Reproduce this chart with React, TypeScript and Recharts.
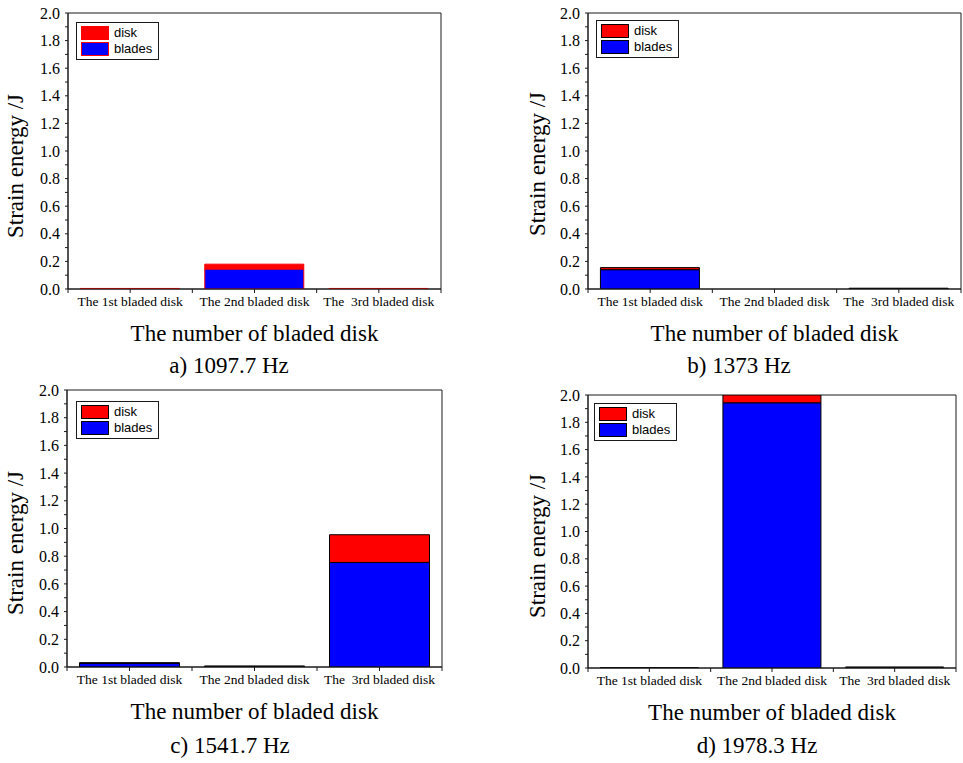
import { BarChart, Bar, XAxis, YAxis, Legend, ReferenceArea } from "recharts";

// categories on the x axis (the third one really has two spaces after "The")
const bladedDisks = ["The 1st bladed disk", "The 2nd bladed disk", "The  3rd bladed disk"];

// y ticks every 0.1, labels only on the even ones
const yTicks = [0, 0.1, 0.2, 0.3, 0.4, 0.5, 0.6, 0.7, 0.8, 0.9, 1.0, 1.1, 1.2, 1.3, 1.4, 1.5, 1.6, 1.7, 1.8, 1.9, 2.0];

// strain energy (J) per bladed disk, one pair of arrays per mode
const bladesA = [0.001, 0.145, 0.001];
const diskA = [0.003, 0.035, 0.003];

const bladesB = [0.14, 0, 0.004];
const diskB = [0.015, 0, 0.001];

const bladesC = [0.028, 0.005, 0.755];
const diskC = [0.002, 0.001, 0.2];

const bladesD = [0.003, 1.943, 0.005];
const diskD = [0, 0.057, 0.001];

const captions = ["a) 1097.7 Hz", "b) 1373 Hz", "c) 1541.7 Hz", "d) 1978.3 Hz"];

const SERIF = '"Liberation Serif", "Times New Roman", serif';
const SANS = '"Liberation Sans", Arial, sans-serif';
const AXIS = "#1a1a1a";

type PanelSpec = {
  blades: number[];
  disk: number[];
  caption: string;
  stroke: string;
  ox: number; oy: number; w: number; h: number;
  left: number; top: number; right: number; bottom: number;
  yTitleX: number; yTitleY: number;
  legendX: number; legendY: number;
  captionX: number; captionY: number;
};

const panels: PanelSpec[] = [
  {
    blades: bladesA, disk: diskA, caption: captions[0], stroke: "#ff0000",
    ox: 0, oy: 0, w: 480, h: 360, left: 68, top: 13, right: 441, bottom: 289,
    yTitleX: 23, yTitleY: 166, legendX: 76, legendY: 22, captionX: 229, captionY: 368,
  },
  {
    blades: bladesB, disk: diskB, caption: captions[1], stroke: "#000",
    ox: 500, oy: 0, w: 463, h: 360, left: 588, top: 13, right: 961, bottom: 289,
    yTitleX: 545, yTitleY: 164, legendX: 596, legendY: 20, captionX: 739, captionY: 368,
  },
  {
    blades: bladesC, disk: diskC, caption: captions[2], stroke: "#000",
    ox: 0, oy: 380, w: 480, h: 383, left: 67, top: 390, right: 442, bottom: 667,
    yTitleX: 23, yTitleY: 543, legendX: 76, legendY: 401, captionX: 230, captionY: 748,
  },
  {
    blades: bladesD, disk: diskD, caption: captions[3], stroke: "#000",
    ox: 500, oy: 380, w: 463, h: 383, left: 588, top: 395, right: 956, bottom: 668,
    yTitleX: 545, yTitleY: 546, legendX: 594, legendY: 403, captionX: 757, captionY: 748,
  },
];

const makeXTick = (half: number) => (props: any) => {
  const { x, y, payload, index } = props;
  return (
    <g>
      <line x1={x} x2={x} y1={y} y2={y + 4} stroke={AXIS} />
      <line x1={x - half} x2={x - half} y1={y} y2={y + 4} stroke={AXIS} />
      {index === bladedDisks.length - 1 && (
        <line x1={x + half} x2={x + half} y1={y} y2={y + 4} stroke={AXIS} />
      )}
      <text
        x={x}
        y={y + 17}
        textAnchor="middle"
        fontFamily={SERIF}
        fontSize={13.5}
        fill="#000"
        xmlSpace="preserve"
        style={{ whiteSpace: "pre" }}
      >
        {payload.value}
      </text>
    </g>
  );
};

const YTick = (props: any) => {
  const { x, y, payload } = props;
  const major = Math.round(payload.value * 10) % 2 === 0;
  return (
    <g>
      <line x1={x - 3} x2={x} y1={y} y2={y} stroke={AXIS} />
      {major && (
        <text x={x - 8} y={y} dy="0.35em" textAnchor="end" fontFamily={SERIF} fontSize={16} fill="#000">
          {payload.value.toFixed(1)}
        </text>
      )}
    </g>
  );
};

const makeLegend = (stroke: string) => (props: any) => {
  const items = [...(props.payload ?? [])].reverse();
  return (
    <div
      style={{
        border: `1px solid ${AXIS}`,
        background: "#fff",
        padding: "2px 6px 2px 4px",
        fontFamily: SANS,
        fontSize: 13,
        lineHeight: "16px",
        color: "#000",
      }}
    >
      {items.map((it: any) => (
        <div key={it.value} style={{ display: "flex", alignItems: "center", height: 16 }}>
          <span
            style={{
              display: "inline-block",
              width: 28,
              height: 14,
              background: it.color,
              border: `1px solid ${stroke}`,
              boxSizing: "border-box",
              marginRight: 5,
            }}
          />
          <span>{it.value}</span>
        </div>
      ))}
    </div>
  );
};

function Panel({ p }: { p: PanelSpec }) {
  const data = bladedDisks.map((name, i) => ({ name, blades: p.blades[i], disk: p.disk[i] }));
  const half = (p.right - p.left) / 6;
  const xTitleX = (p.left + p.right) / 2 - p.ox;
  const xTitleY = p.bottom - p.oy + 52;
  const ytx = p.yTitleX - p.ox;
  const yty = p.yTitleY - p.oy;

  return (
    <div style={{ position: "absolute", left: p.ox, top: p.oy, width: p.w, height: p.h }}>
      <BarChart
        width={p.w}
        height={p.h}
        data={data}
        margin={{ top: p.top - p.oy, right: p.ox + p.w - p.right, left: 0, bottom: 0 }}
        barCategoryGap="10%"
      >
        <XAxis
          dataKey="name"
          height={p.oy + p.h - p.bottom}
          interval={0}
          tickSize={0}
          tickMargin={0}
          tickLine={false}
          axisLine={{ stroke: AXIS }}
          tick={makeXTick(half)}
          label={() => (
            <text x={xTitleX} y={xTitleY} textAnchor="middle" fontFamily={SERIF} fontSize={23} fill="#000">
              The number of bladed disk
            </text>
          )}
        />
        <YAxis
          type="number"
          domain={[0, 2]}
          allowDataOverflow
          ticks={yTicks}
          interval={0}
          width={p.left - p.ox}
          tickSize={0}
          tickMargin={0}
          tickLine={false}
          axisLine={{ stroke: AXIS }}
          tick={YTick}
          label={() => (
            <text
              x={ytx}
              y={yty}
              transform={`rotate(-90, ${ytx}, ${yty})`}
              textAnchor="middle"
              fontFamily={SERIF}
              fontSize={23}
              fill="#000"
            >
              Strain energy /J
            </text>
          )}
        />
        <ReferenceArea y1={0} y2={2} fill="none" stroke={AXIS} ifOverflow="visible" />
        <Bar dataKey="blades" name="blades" stackId="s" fill="#0000ff" stroke={p.stroke} isAnimationActive={false} />
        <Bar dataKey="disk" name="disk" stackId="s" fill="#ff0000" stroke={p.stroke} isAnimationActive={false} />
        <Legend
          layout="vertical"
          align="center"
          verticalAlign="middle"
          content={makeLegend(p.stroke)}
          wrapperStyle={{ left: p.legendX - p.ox, top: p.legendY - p.oy, width: "auto", height: "auto" }}
        />
      </BarChart>
      <div
        style={{
          position: "absolute",
          left: p.captionX - p.ox,
          top: p.captionY - p.oy - 14,
          transform: "translateX(-50%)",
          fontFamily: SERIF,
          fontSize: 23,
          lineHeight: "23px",
          whiteSpace: "nowrap",
          color: "#000",
        }}
      >
        {p.caption}
      </div>
    </div>
  );
}

export default function App() {
  return (
    <div style={{ position: "absolute", left: 0, top: 0, width: 963, height: 763, background: "#fff" }}>
      {panels.map((p) => (
        <Panel key={p.caption} p={p} />
      ))}
    </div>
  );
}
